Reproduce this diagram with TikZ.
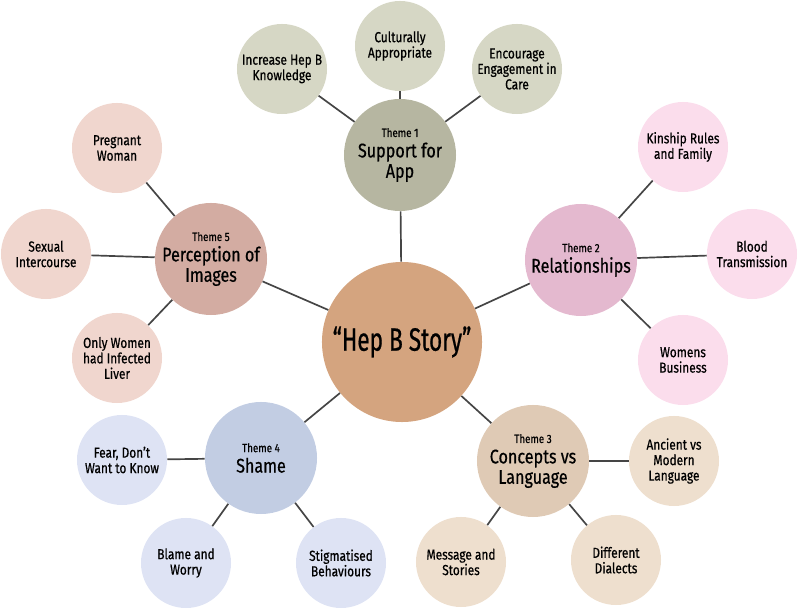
\documentclass[tikz,border=0pt]{standalone}
\usepackage{fontspec}
\setmainfont{Fira Sans}[FakeStretch=0.82, FakeBold=0.6]
\newfontfamily\hubfont{Fira Sans}[FakeStretch=0.7, FakeBold=0.6]
\usepackage{tikz}
\usetikzlibrary{positioning,backgrounds}
\usepackage{xcolor}

\definecolor{hubc}{HTML}{D4A47F}
\definecolor{oneT}{HTML}{B6B6A1}
\definecolor{oneL}{HTML}{D6D7C5}
\definecolor{twoT}{HTML}{E4B9CF}
\definecolor{twoL}{HTML}{FBDDEC}
\definecolor{threeT}{HTML}{DFCAB5}
\definecolor{threeL}{HTML}{EEDFCE}
\definecolor{fourT}{HTML}{C2CDE3}
\definecolor{fourL}{HTML}{DEE3F4}
\definecolor{fiveT}{HTML}{D3ACA2}
\definecolor{fiveL}{HTML}{F0D6CE}
\definecolor{linkc}{HTML}{454545}

\newcommand{\thm}[1]{{\fontsize{8.5}{10}\selectfont Theme #1}}

\begin{document}
\begin{tikzpicture}[
    x=0.025cm, y=-0.025cm,
    hub/.style={circle, minimum size=4cm, inner sep=0pt, align=center, font=\hubfont\fontsize{23}{26}\selectfont},
    theme/.style={circle, minimum size=2.8cm, inner sep=0pt, align=center, font=\fontsize{14}{14.5}\selectfont},
    leaf/.style={circle, minimum size=2.25cm, inner sep=0pt, align=center, font=\fontsize{10.3}{11}\selectfont},
    link/.style={draw=linkc, line width=1.2pt}
]
    \useasboundingbox (0,0) rectangle (798,609);

    % centre
    \node[hub, fill=hubc] (story) at (402,342) {“Hep B Story”};

    % theme 1
    \node[theme, fill=oneT] (support) at (400,155) {\thm{1}\\Support for\\App};
    \node[leaf, fill=oneL] (knowledge) at (282,69) {Increase Hep B\\Knowledge};
    \node[leaf, fill=oneL] (cultural) at (400,46) {Culturally\\Appropriate};
    \node[leaf, fill=oneL] (engage) at (517,69) {Encourage\\Engagement in\\Care};

    % theme 2
    \node[theme, fill=twoT] (relations) at (581,260) {\thm{2}\\Relationships};
    \node[leaf, fill=twoL] (kinship) at (683,147) {Kinship Rules\\and Family};
    \node[leaf, fill=twoL] (blood) at (752,254) {Blood\\Transmission};
    \node[leaf, fill=twoL] (womens) at (683,360) {Womens\\Business};

    % theme 3
    \node[theme, fill=threeT] (concepts) at (533,461) {\thm{3}\\Concepts vs\\Language};
    \node[leaf, fill=threeL] (ancient) at (674,461) {Ancient vs\\Modern\\Language};
    \node[leaf, fill=threeL] (message) at (461,562) {Message and\\Stories};
    \node[leaf, fill=threeL] (dialects) at (616,560) {Different\\Dialects};

    % theme 4
    \node[theme, fill=fourT] (shame) at (261,458) {\thm{4}\\Shame};
    \node[leaf, fill=fourL] (fear) at (122,460) {Fear, Don’t\\Want to Know};
    \node[leaf, fill=fourL] (blame) at (186,563) {Blame and\\Worry};
    \node[leaf, fill=fourL] (stigma) at (341,563) {Stigmatised\\Behaviours};

    % theme 5
    \node[theme, fill=fiveT] (images) at (211,259) {\thm{5}\\Perception of\\Images};
    \node[leaf, fill=fiveL] (pregnant) at (117,148) {Pregnant\\Woman};
    \node[leaf, fill=fiveL] (sexual) at (46,254) {Sexual\\Intercourse};
    \node[leaf, fill=fiveL] (liver) at (117,358) {Only Women\\had Infected\\Liver};

    % connectors
    \draw[link] (story) -- (support);
    \draw[link] (story) -- (relations);
    \draw[link] (story) -- (concepts);
    \draw[link] (story) -- (shame);
    \draw[link] (story) -- (images);
    \draw[link] (support) -- (knowledge);
    \draw[link] (support) -- (cultural);
    \draw[link] (support) -- (engage);
    \draw[link] (relations) -- (kinship);
    \draw[link] (relations) -- (blood);
    \draw[link] (relations) -- (womens);
    \draw[link] (concepts) -- (ancient);
    \draw[link] (concepts) -- (message);
    \draw[link] (concepts) -- (dialects);
    \draw[link] (shame) -- (fear);
    \draw[link] (shame) -- (blame);
    \draw[link] (shame) -- (stigma);
    \draw[link] (images) -- (pregnant);
    \draw[link] (images) -- (sexual);
    \draw[link] (images) -- (liver);
\end{tikzpicture}
\end{document}
